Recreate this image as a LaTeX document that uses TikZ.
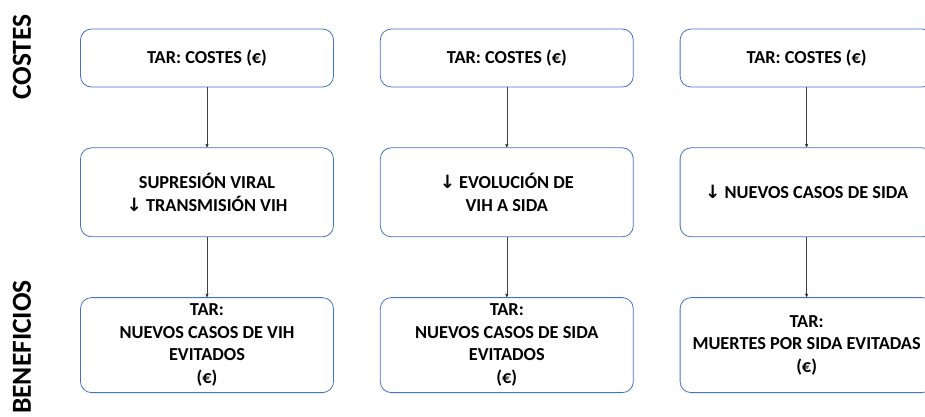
\documentclass[tikz,border=0pt]{standalone}
\usepackage{fontspec}
\setmainfont{Carlito}
\newfontfamily\arrowfont{DejaVu Sans}
\usetikzlibrary{arrows,positioning}
\definecolor{boxblue}{HTML}{4472C4}
\newcommand{\dnarrow}{{\arrowfont\bfseries ↓}}

\begin{document}
\begin{tikzpicture}[->,>=stealth',x=1pt,y=-1pt,node distance=60pt and 46pt,thin]
        \tikzstyle{box}=[draw=boxblue,line width=0.8pt,rounded corners=11pt,minimum width=253pt,align=center,text=black,font=\bfseries\fontsize{18.3}{22.5}\selectfont]
        \tikzstyle{side}=[rotate=90,text=black,font=\bfseries\fontsize{27.5}{30}\selectfont]
        \useasboundingbox (0,0) rectangle (925,416);
        \clip (0,0) rectangle (925,416);
        % costes
        \node[box,minimum height=58pt] (cost1) at (207,58) {TAR: COSTES (€)};
        \node[box,minimum height=58pt] (cost2) [right=of cost1] {TAR: COSTES (€)};
        \node[box,minimum height=58pt] (cost3) [right=of cost2] {TAR: COSTES (€)};
        % efectos
        \node[box,minimum height=89pt] (eff1) [below=of cost1] {SUPRESIÓN VIRAL\\\dnarrow{} TRANSMISIÓN VIH};
        \node[box,minimum height=89pt] (eff2) [below=of cost2] {\dnarrow{} EVOLUCIÓN DE\\VIH A SIDA};
        \node[box,minimum height=89pt] (eff3) [below=of cost3] {\dnarrow{} NUEVOS CASOS DE SIDA};
        % beneficios
        \node[box,minimum height=95pt] (ben1) [below=of eff1] {TAR:\\NUEVOS CASOS DE VIH\\EVITADOS\\(€)};
        \node[box,minimum height=95pt] (ben2) [below=of eff2] {TAR:\\NUEVOS CASOS DE SIDA\\EVITADOS\\(€)};
        \node[box,minimum height=95pt] (ben3) [below=of eff3] {TAR:\\MUERTES POR SIDA EVITADAS\\(€)};
        % rotulos
        \node[side] (costes) at (22,57) {COSTES};
        \node[side] (beneficios) at (22,347) {BENEFICIOS};
    \path[draw=black!75]
        (cost1) edge (eff1)
        (eff1) edge (ben1)
        (cost2) edge (eff2)
        (eff2) edge (ben2)
        (cost3) edge (eff3)
        (eff3) edge (ben3);
    \end{tikzpicture}
\end{document}
